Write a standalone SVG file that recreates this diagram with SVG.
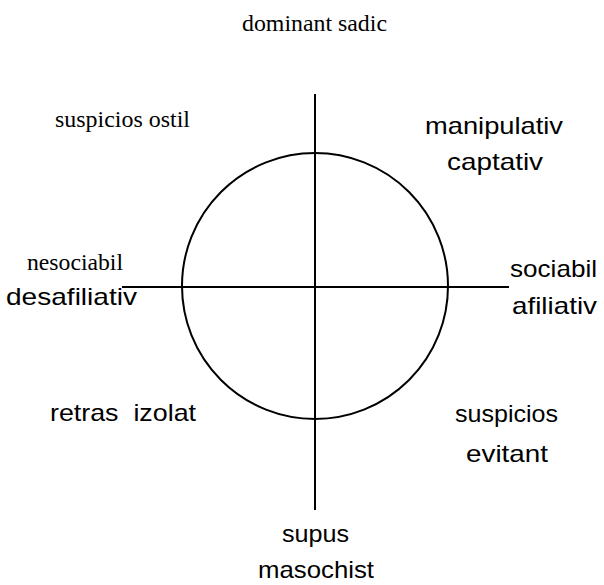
<svg xmlns="http://www.w3.org/2000/svg" width="604" height="585" viewBox="0 0 604 585">
<style>
.serif{font-family:"Liberation Serif","Times New Roman",serif;font-size:23.5px;fill:#000}
.sans{font-family:"Liberation Sans",Arial,sans-serif;font-size:24px;fill:#000}
.ln{stroke:#000;stroke-width:2;fill:none}
</style>
<rect width="604" height="585" fill="#fff"/>
<g id="connectors">
<circle class="ln" cx="315" cy="286" r="133"/>
<line class="ln" x1="315" y1="94" x2="315" y2="510"/>
<line class="ln" x1="122" y1="287" x2="509" y2="287"/>
</g>
<g id="n-dominant"><text class="serif" x="242" y="31" textLength="145" lengthAdjust="spacingAndGlyphs">dominant sadic</text></g>
<g id="n-suspicios-ostil"><text class="serif" x="55" y="127" textLength="135" lengthAdjust="spacingAndGlyphs">suspicios ostil</text></g>
<g id="n-manipulativ">
<text class="sans" x="425" y="134" textLength="138" lengthAdjust="spacingAndGlyphs">manipulativ</text>
<text class="sans" x="447" y="170" textLength="96" lengthAdjust="spacingAndGlyphs">captativ</text>
</g>
<g id="n-nesociabil">
<text class="serif" x="27" y="270" textLength="96" lengthAdjust="spacingAndGlyphs">nesociabil</text>
<text class="sans" x="6" y="305" textLength="131" lengthAdjust="spacingAndGlyphs">desafiliativ</text>
</g>
<g id="n-sociabil">
<text class="sans" x="510" y="277" textLength="87" lengthAdjust="spacingAndGlyphs">sociabil</text>
<text class="sans" x="512" y="314" textLength="85" lengthAdjust="spacingAndGlyphs">afiliativ</text>
</g>
<g id="n-retras"><text class="sans" x="50" y="421" textLength="146" lengthAdjust="spacingAndGlyphs" xml:space="preserve" style="white-space:pre">retras  izolat</text></g>
<g id="n-suspicios-evitant">
<text class="sans" x="455" y="422" textLength="103" lengthAdjust="spacingAndGlyphs">suspicios</text>
<text class="sans" x="466" y="462" textLength="82" lengthAdjust="spacingAndGlyphs">evitant</text>
</g>
<g id="n-supus">
<text class="sans" x="282" y="542" textLength="67" lengthAdjust="spacingAndGlyphs">supus</text>
<text class="sans" x="258" y="578" textLength="116" lengthAdjust="spacingAndGlyphs">masochist</text>
</g>
</svg>
